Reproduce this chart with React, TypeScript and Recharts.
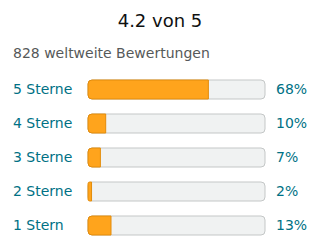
import * as React from 'react';
import { BarChart, Bar, XAxis, YAxis } from 'recharts';

const stars = ['5 Sterne', '4 Sterne', '3 Sterne', '2 Sterne', '1 Stern'];
const shares = [68, 10, 7, 2, 13];
const title = '4.2 von 5';
const subtitle = '828 weltweite Bewertungen';

const data = stars.map((name, i) => ({ name, pct: shares[i] }));

const FONT = '"DejaVu Sans", sans-serif';

function StarTick(props: any) {
  return (
    <text x={13} y={props.y} dy={5} textAnchor="start"
      fontFamily={FONT} fontSize={14} fill="#007185">
      {props.payload.value}
    </text>
  );
}

function PctTick(props: any) {
  return (
    <text x={props.x + 3} y={props.y} dy={5} textAnchor="start"
      fontFamily={FONT} fontSize={14} fill="#007185">
      {shares[props.index]}%
    </text>
  );
}

export default function App() {
  return (
    <div style={{ position: 'relative', width: 320, height: 252, background: '#fff' }}>
      <style>{'body{margin:0}'}</style>
      <div style={{
        position: 'absolute', left: 0, top: 9, width: 320, textAlign: 'center',
        fontFamily: FONT, fontSize: 18, color: '#0F1111', lineHeight: '24px'
      }}>{title}</div>
      <div style={{
        position: 'absolute', left: 13, top: 44, fontFamily: FONT, fontSize: 14,
        color: '#565959', lineHeight: '18px'
      }}>{subtitle}</div>
      <div style={{ position: 'absolute', left: 0, top: 0 }}>
        <BarChart width={320} height={252} data={data} layout="vertical"
          margin={{ top: 72, right: 0, bottom: 10, left: 0 }}>
          <XAxis type="number" domain={[0, 100]} hide />
          <YAxis yAxisId="l" type="category" dataKey="name" width={88}
            axisLine={false} tickLine={false} tick={<StarTick />} />
          <YAxis yAxisId="r" type="category" dataKey="name" orientation="right" width={55}
            axisLine={false} tickLine={false} tick={<PctTick />} />
          <Bar yAxisId="l" dataKey="pct" barSize={19} isAnimationActive={false}
            fill="#FFA41C" stroke="#E38C0B" strokeWidth={1} radius={[4, 0, 0, 4]}
            background={{ fill: '#F0F2F2', stroke: '#C4C7C7', strokeWidth: 1, radius: 4 }} />
        </BarChart>
      </div>
    </div>
  );
}
